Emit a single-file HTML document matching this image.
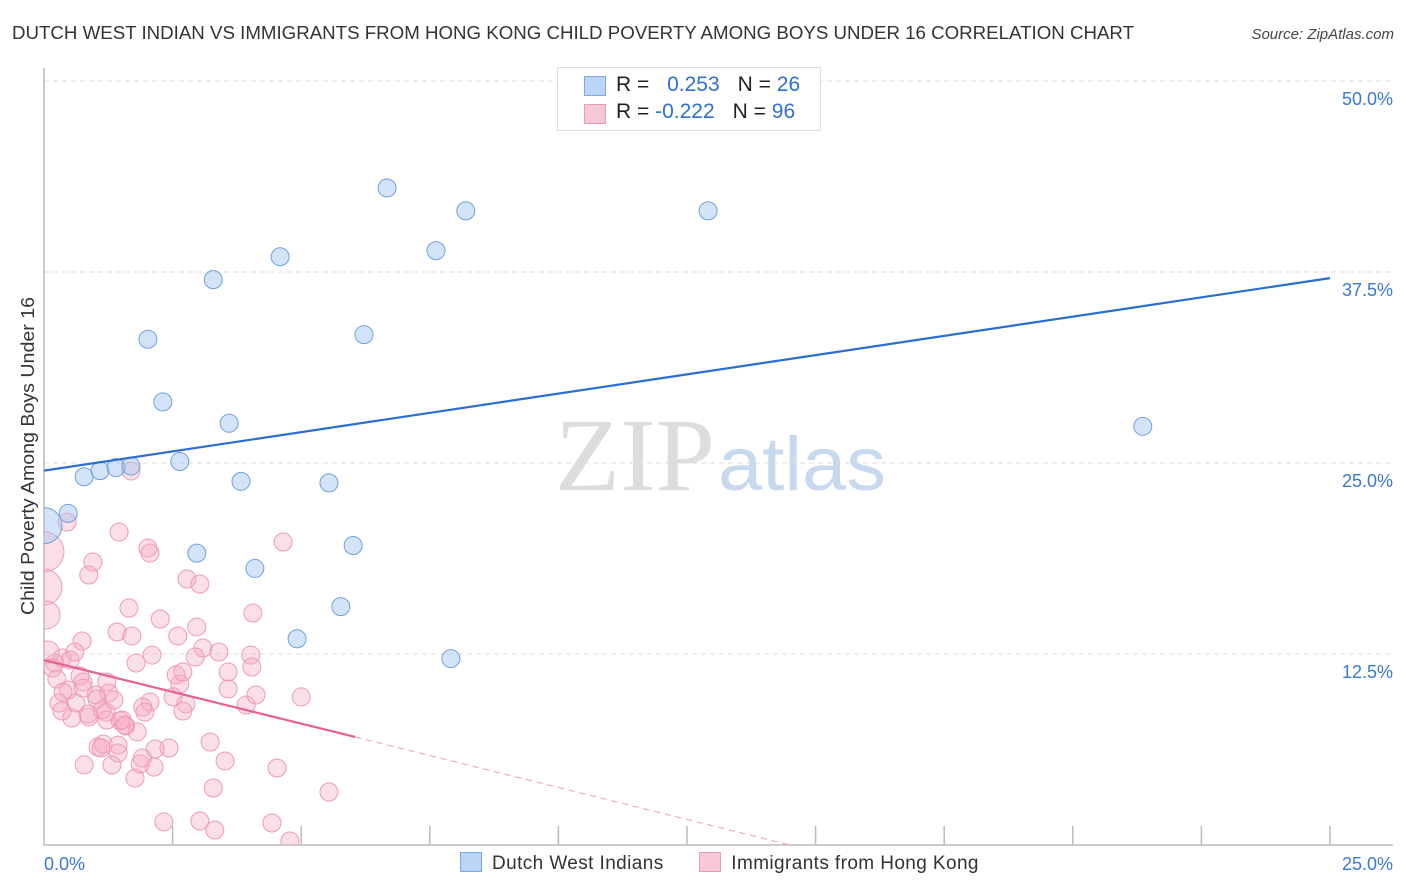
<!DOCTYPE html>
<html><head><meta charset="utf-8"><style>
body{margin:0;background:#fff;font-family:"Liberation Sans",sans-serif;}
#wrap{position:relative;width:1406px;height:892px;overflow:hidden;}
</style></head><body>
<div id="wrap">
<svg id="svg" width="1406" height="892" style="position:absolute;left:0;top:0">
<defs><clipPath id="pc"><rect x="44" y="60" width="1360" height="785"/></clipPath></defs>
<text x="12" y="39" font-size="18" fill="#333" textLength="1122" lengthAdjust="spacingAndGlyphs">DUTCH WEST INDIAN VS IMMIGRANTS FROM HONG KONG CHILD POVERTY AMONG BOYS UNDER 16 CORRELATION CHART</text>
<text x="1394" y="39" font-size="15" fill="#444" font-style="italic" text-anchor="end">Source: ZipAtlas.com</text>
<text x="34" y="456" font-size="18" fill="#333" text-anchor="middle" textLength="318" lengthAdjust="spacingAndGlyphs" transform="rotate(-90 34 456)">Child Poverty Among Boys Under 16</text>
<g><text x="635" y="490" font-size="104" font-family="Liberation Serif,serif" fill="#ddd" text-anchor="middle" textLength="160" lengthAdjust="spacingAndGlyphs">ZIP</text><text x="802" y="490" font-size="76" fill="#c8d9ef" text-anchor="middle" textLength="168" lengthAdjust="spacingAndGlyphs">atlas</text></g>
<g id="grid"></g><g id="marks" clip-path="url(#pc)"></g><g id="lines"></g>
</svg>
<div style="position:absolute;left:557px;top:67px;width:262px;height:62px;border:1px solid #ddd;background:#fff;font-size:21px;color:#222">
 <div style="position:absolute;left:26px;top:8px;width:20px;height:18px;background:#bcd4f5;border:1px solid #7aaae0"></div>
 <div style="position:absolute;left:58px;top:5px">R = <span style="color:#2f6fd0;margin-left:12px">0.253</span><span style="margin-left:18px">N = </span><span style="color:#2f6fd0">26</span></div>
 <div style="position:absolute;left:26px;top:36px;width:20px;height:18px;background:#f8c8d6;border:1px solid #ee9ab5"></div>
 <div style="position:absolute;left:58px;top:32px">R = <span style="color:#2f6fd0">-0.222</span><span style="margin-left:18px">N = </span><span style="color:#2f6fd0">96</span></div>
</div>
<div style="position:absolute;left:460px;top:852px;font-size:19px;letter-spacing:0.4px;color:#333;white-space:nowrap">
 <span style="display:inline-block;width:20px;height:18px;background:#bcd4f5;border:1px solid #7aaae0;vertical-align:-3px"></span><span style="margin-left:10px">Dutch West Indians</span>
 <span style="display:inline-block;width:20px;height:18px;background:#f8c8d6;border:1px solid #ee9ab5;vertical-align:-3px;margin-left:30px"></span><span style="margin-left:10px">Immigrants from Hong Kong</span>
</div>
</div>
<script>
const yTicks=[12.5,25,37.5,50];
const yTickLabels=["12.5%","25.0%","37.5%","50.0%"];
const xTickLabels=["0.0%","25.0%"];
const blueX=[0.47,0.78,1.09,1.40,1.69,2.02,2.31,2.64,2.97,3.29,3.60,3.83,4.10,4.59,4.92,5.54,5.77,6.01,6.22,6.67,7.62,7.91,8.20,12.91,21.36,0.0];
const blueY=[21.7,24.1,24.5,24.7,24.8,33.1,29.0,25.1,19.1,37.0,27.6,23.8,18.1,38.5,13.5,23.7,15.6,19.6,33.4,43.0,38.9,12.2,41.5,41.5,27.4,20.9];
const blueR=[9,9,9,9,9,9,9,9,9,9,9,9,9,9,9,9,9,9,9,9,9,9,9,9,9,18];
const pinkX=[0.45,1.69,1.46,0.95,0.87,2.02,2.06,4.65,1.65,2.26,2.78,3.03,4.06,1.42,1.71,0.74,2.60,2.97,3.09,3.40,2.10,1.79,2.94,4.02,4.04,3.58,0.35,0.51,0.21,0.60,0.25,0.47,0.70,0.76,1.01,1.26,1.22,0.76,0.29,0.62,0.87,0.54,1.13,1.22,1.48,1.59,1.81,2.06,1.92,2.51,2.64,2.57,2.70,3.58,5.00,2.76,2.70,1.96,1.05,1.15,1.44,0.78,1.32,2.14,1.87,2.43,2.16,3.23,3.52,1.77,3.29,4.53,5.54,2.33,3.03,3.32,4.43,4.78,1.52,1.57,0.86,0.35,1.03,1.21,1.44,1.91,0.37,1.36,3.93,4.12,0,0,0.04,0.08,0.17,1.11];
const pinkY=[21.14,24.48,20.48,18.52,17.67,19.44,19.11,19.83,15.51,14.79,17.41,17.08,15.18,13.94,13.68,13.35,13.68,14.27,12.89,12.63,12.43,11.91,12.30,12.43,11.65,11.32,12.24,12.11,11.91,12.63,10.86,10.14,11.06,10.67,9.82,9.95,10.67,10.27,9.29,9.29,8.38,8.31,8.84,8.18,8.12,7.79,7.40,9.36,9.03,9.69,10.54,11.13,11.32,10.21,9.69,9.23,8.77,8.70,6.41,6.61,6.02,5.24,5.24,5.10,5.30,6.35,6.28,6.74,5.50,4.38,3.73,5.04,3.47,1.51,1.57,0.98,1.44,0.26,8.18,7.85,8.57,8.77,9.55,8.70,6.54,5.69,10.01,9.49,9.16,9.82,19.18,16.88,15.05,12.63,11.58,6.35];
const pinkR=pinkX.map((_,i)=>i>=90&&i<=92?[20,18,14][i-90]:(i===93?11:9));
const blueTrend=[[0,24.5],[25,37.1]];
const pinkTrend=[[0,12.1],[6.05,7.07]];
const pinkDash=[[6.05,7.07],[14.5,0]];
const X=v=>44+v/25*1286, Y=v=>845-v*15.28;
const NS="http://www.w3.org/2000/svg";
function mk(tag,attrs,parent){const e=document.createElementNS(NS,tag);for(const k in attrs)e.setAttribute(k,attrs[k]);parent.appendChild(e);return e;}
const grid=document.getElementById('grid'),marks=document.getElementById('marks'),lines=document.getElementById('lines');
yTicks.forEach((t,i)=>{
 const l=mk('line',{x1:44,x2:1393,y1:Y(t),y2:Y(t),stroke:'#ddd','stroke-dasharray':'5,4'},grid);
 
 
 const tx=mk('text',{x:1393,y:Y(t)+24,'font-size':18,fill:'#3a78d4','text-anchor':'end'},grid);
 tx.textContent=yTickLabels[i];
 
 
});
const ax=mk('path',{d:'M44 68V845H1393',fill:'none',stroke:'#bbb','stroke-width':1.5},grid);


for(let i=1;i<=10;i++){const t=mk('line',{x1:X(i*2.5),x2:X(i*2.5),y1:826,y2:845,stroke:'#bbb','stroke-width':1.5},grid);
 
 }
xTickLabels.forEach((s,i)=>{const t=mk('text',{x:i?1393:44,y:870,'font-size':18,fill:'#3a78d4','text-anchor':i?'end':'start'},grid);t.textContent=s;
 
 });
pinkX.forEach((x,i)=>{const c=mk('circle',{cx:X(x),cy:Y(pinkY[i]),r:pinkR[i],fill:'rgba(244,170,195,0.38)',stroke:'#ee9ab5','stroke-width':1},marks);
 
 });
blueX.forEach((x,i)=>{const c=mk('circle',{cx:X(x),cy:Y(blueY[i]),r:blueR[i],fill:'rgba(160,196,240,0.45)',stroke:'#6fa0e0','stroke-width':1},marks);
 
 });
function seg(p,attrs,name){const l=mk('line',Object.assign({x1:X(p[0][0]),y1:Y(p[0][1]),x2:X(p[1][0]),y2:Y(p[1][1])},attrs),lines);
 
 }
seg(blueTrend,{stroke:'#2a6fd4','stroke-width':2.2},'blue-trend-line');
seg(pinkTrend,{stroke:'#e8608c','stroke-width':2.2},'pink-trend-line');
seg(pinkDash,{stroke:'#ee9ab5','stroke-width':1,'stroke-dasharray':'6,5'},'pink-trend-extension');
</script>
</body></html>
